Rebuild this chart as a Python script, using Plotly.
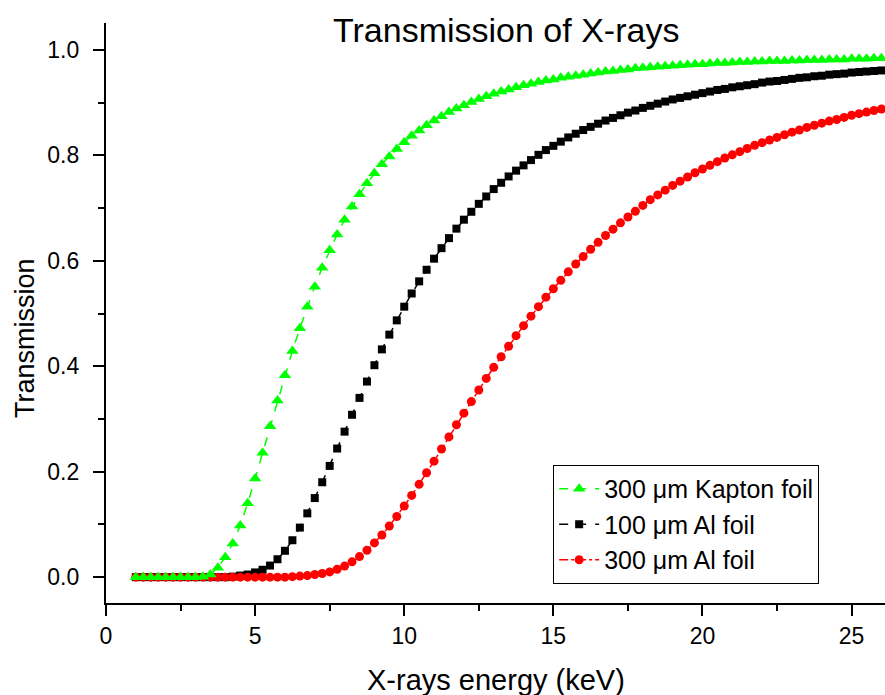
import plotly.graph_objects as go

# Photon energy grid (keV)
energy_kev = [
    1.00, 1.25, 1.50, 1.75, 2.00, 2.25, 2.50, 2.75, 3.00, 3.25,
    3.50, 3.75, 4.00, 4.25, 4.50, 4.75, 5.00, 5.25, 5.50, 5.75,
    6.00, 6.25, 6.50, 6.75, 7.00, 7.25, 7.50, 7.75, 8.00, 8.25,
    8.50, 8.75, 9.00, 9.25, 9.50, 9.75, 10.00, 10.25, 10.50, 10.75,
    11.00, 11.25, 11.50, 11.75, 12.00, 12.25, 12.50, 12.75, 13.00, 13.25,
    13.50, 13.75, 14.00, 14.25, 14.50, 14.75, 15.00, 15.25, 15.50, 15.75,
    16.00, 16.25, 16.50, 16.75, 17.00, 17.25, 17.50, 17.75, 18.00, 18.25,
    18.50, 18.75, 19.00, 19.25, 19.50, 19.75, 20.00, 20.25, 20.50, 20.75,
    21.00, 21.25, 21.50, 21.75, 22.00, 22.25, 22.50, 22.75, 23.00, 23.25,
    23.50, 23.75, 24.00, 24.25, 24.50, 24.75, 25.00, 25.25, 25.50, 25.75,
    26.00,
]

# Transmission, 300 um Kapton foil
kapton_300um = [
    0.000, 0.000, 0.000, 0.000, 0.000, 0.000, 0.000, 0.000, 0.000, 0.001,
    0.005, 0.018, 0.038, 0.064, 0.098, 0.140, 0.187, 0.236, 0.286, 0.335,
    0.383, 0.429, 0.472, 0.513, 0.551, 0.587, 0.620, 0.650, 0.678, 0.703,
    0.726, 0.747, 0.766, 0.783, 0.798, 0.812, 0.825, 0.837, 0.847, 0.857,
    0.866, 0.874, 0.882, 0.889, 0.895, 0.901, 0.907, 0.912, 0.917, 0.921,
    0.925, 0.929, 0.933, 0.936, 0.939, 0.942, 0.944, 0.947, 0.949, 0.951,
    0.953, 0.955, 0.957, 0.959, 0.960, 0.962, 0.963, 0.965, 0.966, 0.967,
    0.968, 0.969, 0.970, 0.971, 0.972, 0.973, 0.973, 0.974, 0.975, 0.975,
    0.976, 0.977, 0.977, 0.978, 0.978, 0.979, 0.979, 0.979, 0.980, 0.980,
    0.981, 0.981, 0.981, 0.982, 0.982, 0.982, 0.983, 0.983, 0.983, 0.984,
    0.984,
]

# Transmission, 100 um Al foil
al_100um = [
    0.000, 0.000, 0.000, 0.000, 0.000, 0.000, 0.000, 0.000, 0.000, 0.000,
    0.000, 0.000, 0.000, 0.001, 0.003, 0.005, 0.009, 0.014, 0.022, 0.034,
    0.050, 0.070, 0.094, 0.121, 0.150, 0.180, 0.211, 0.244, 0.276, 0.308,
    0.340, 0.371, 0.402, 0.432, 0.460, 0.487, 0.513, 0.538, 0.561, 0.583,
    0.604, 0.624, 0.643, 0.661, 0.678, 0.693, 0.708, 0.722, 0.736, 0.748,
    0.760, 0.771, 0.781, 0.791, 0.801, 0.810, 0.818, 0.826, 0.834, 0.841,
    0.848, 0.854, 0.860, 0.866, 0.871, 0.876, 0.881, 0.885, 0.890, 0.894,
    0.898, 0.902, 0.906, 0.909, 0.912, 0.915, 0.918, 0.921, 0.924, 0.926,
    0.929, 0.931, 0.933, 0.935, 0.938, 0.940, 0.941, 0.943, 0.945, 0.947,
    0.948, 0.950, 0.951, 0.953, 0.954, 0.955, 0.957, 0.958, 0.959, 0.960,
    0.961,
]

# Transmission, 300 um Al foil
al_300um = [
    0.000, 0.000, 0.000, 0.000, 0.000, 0.000, 0.000, 0.000, 0.000, 0.000,
    0.000, 0.000, 0.000, 0.000, 0.000, 0.000, 0.000, 0.000, 0.000, 0.000,
    0.000, 0.001, 0.002, 0.003, 0.005, 0.007, 0.010, 0.015, 0.021, 0.029,
    0.039, 0.051, 0.065, 0.080, 0.097, 0.115, 0.135, 0.155, 0.176, 0.198,
    0.220, 0.243, 0.266, 0.289, 0.311, 0.333, 0.355, 0.377, 0.398, 0.418,
    0.438, 0.458, 0.477, 0.495, 0.513, 0.531, 0.547, 0.563, 0.579, 0.594,
    0.608, 0.622, 0.635, 0.648, 0.660, 0.672, 0.683, 0.694, 0.705, 0.716,
    0.725, 0.734, 0.743, 0.751, 0.759, 0.767, 0.774, 0.781, 0.788, 0.795,
    0.801, 0.807, 0.813, 0.819, 0.824, 0.829, 0.834, 0.839, 0.844, 0.848,
    0.853, 0.857, 0.861, 0.865, 0.868, 0.872, 0.876, 0.879, 0.882, 0.885,
    0.888,
]

FONT = "Liberation Sans, Arial, sans-serif"

fig = go.Figure()

fig.add_trace(go.Scatter(
    x=energy_kev, y=al_100um, name="100 μm Al foil", legendrank=2,
    mode="lines+markers",
    line=dict(color="#000000", width=1.5, dash="dash"),
    marker=dict(symbol="square", size=8, color="#000000"),
))
fig.add_trace(go.Scatter(
    x=energy_kev, y=al_300um, name="300 μm Al foil", legendrank=3,
    mode="lines+markers",
    line=dict(color="#FF0000", width=1.5, dash="dashdot"),
    marker=dict(symbol="circle", size=9, color="#FF0000"),
))
fig.add_trace(go.Scatter(
    x=energy_kev, y=kapton_300um, name="300 μm Kapton foil", legendrank=1,
    mode="lines+markers",
    line=dict(color="#00FF00", width=1.5, dash="dash"),
    marker=dict(symbol="triangle-up", size=11, color="#00FF00"),
))

axis_common = dict(
    showline=True, linecolor="#000000", linewidth=2,
    showgrid=False, zeroline=False,
    ticks="outside", ticklen=11, tickwidth=2, tickcolor="#000000",
    tickfont=dict(family=FONT, size=23, color="#000000"),
    mirror=False,
)

fig.update_xaxes(
    range=[0, 26.12], dtick=5, tick0=0,
    minor=dict(dtick=2.5, ticks="outside", ticklen=6, tickwidth=2, tickcolor="#000000"),
    **axis_common,
)
fig.update_yaxes(
    range=[-0.049, 1.051], dtick=0.2, tick0=0, tickformat=".1f",
    ticksuffix="\u2009\u2009",
    minor=dict(dtick=0.1, ticks="outside", ticklen=6, tickwidth=2, tickcolor="#000000"),
    **axis_common,
)

fig.update_layout(
    width=885, height=695,
    margin=dict(l=106, r=0, t=23, b=92),
    paper_bgcolor="#FFFFFF", plot_bgcolor="#FFFFFF",
    font=dict(family=FONT, color="#000000"),
    title=dict(
        text="Transmission of X-rays",
        x=0.572, xanchor="center", y=0.957, yanchor="middle",
        font=dict(family=FONT, size=34, color="#000000"),
    ),
    legend=dict(
        x=0.574, xanchor="left", y=0.238, yanchor="top",
        bgcolor="#FFFFFF", bordercolor="#000000", borderwidth=1,
        font=dict(family=FONT, size=25, color="#000000"),
        itemwidth=40, tracegroupgap=0,
    ),
    annotations=[
        dict(
            text="X-rays energy (keV)", xref="paper", yref="paper",
            x=0.5, y=-0.133, xanchor="center", yanchor="middle",
            showarrow=False, font=dict(family=FONT, size=29, color="#000000"),
        ),
        dict(
            text="Transmission", xref="paper", yref="paper",
            x=-0.104, y=0.457, xanchor="center", yanchor="middle",
            textangle=-90, showarrow=False,
            font=dict(family=FONT, size=27, color="#000000"),
        ),
    ],
)

fig.write_html("out.html")
